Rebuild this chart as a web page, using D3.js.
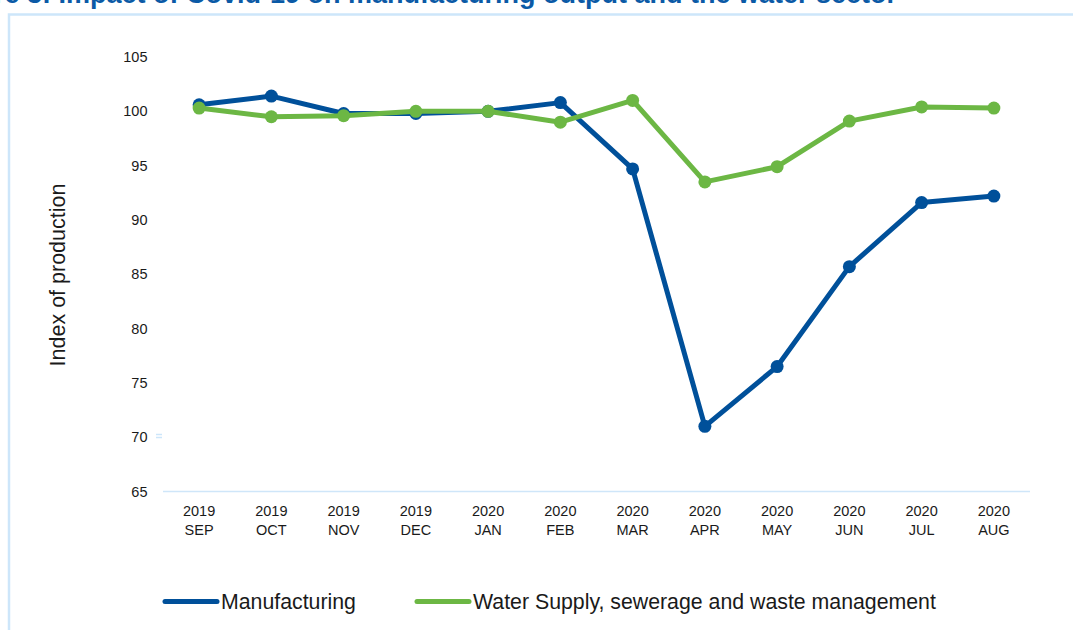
<!DOCTYPE html>
<html>
<head>
<meta charset="utf-8">
<script src="https://cdn.jsdelivr.net/npm/d3@7"></script>
<style>
  html, body { margin: 0; padding: 0; background: #fff; }
  svg { display: block; }
</style>
</head>
<body>
<svg id="chart" width="1073" height="630"></svg>
<script>
// Monthly index of production, Sep 2019 – Aug 2020
const years = ["2019", "2019", "2019", "2019", "2020", "2020", "2020", "2020", "2020", "2020", "2020", "2020"];
const months = ["SEP", "OCT", "NOV", "DEC", "JAN", "FEB", "MAR", "APR", "MAY", "JUN", "JUL", "AUG"];
const manufacturing = [100.6, 101.4, 99.8, 99.8, 100.0, 100.8, 94.7, 71.0, 76.5, 85.7, 91.6, 92.2];
const waterSupply = [100.3, 99.5, 99.6, 100.0, 100.0, 99.0, 101.0, 93.5, 94.9, 99.1, 100.4, 100.3];
const yTicks = [65, 70, 75, 80, 85, 90, 95, 100, 105];

const seriesList = [
  { name: "Manufacturing", values: manufacturing, color: "#00509A" },
  { name: "Water Supply, sewerage and waste management", values: waterSupply, color: "#6CB744" }
];

const svg = d3.select("#chart");
const font = "'Liberation Sans', Arial, Helvetica, sans-serif";

// Title (runs past the top of the frame) and frame
svg.append("text")
  .attr("x", 897).attr("y", 3)
  .attr("text-anchor", "end")
  .attr("font-family", font)
  .attr("font-weight", "bold")
  .attr("font-size", 27)
  .attr("fill", "#0B5AA6")
  .text("Figure 3: Impact of Covid-19 on manufacturing output and the water sector");

svg.append("path")
  .attr("d", "M9,640 L9,14.5 L1080,14.5")
  .attr("fill", "none")
  .attr("stroke", "#CDE6FA")
  .attr("stroke-width", 2.5);

const plot = { left: 163, right: 1030, top: 57, bottom: 491.5 };

const x = d3.scaleBand()
  .domain(months.map((m, i) => i))
  .range([plot.left, plot.right]);

const y = d3.scaleLinear()
  .domain([65, 105])
  .range([plot.bottom, plot.top]);

// Y axis labels
const yAxis = d3.axisLeft(y).tickValues(yTicks).tickSize(0).tickPadding(0).tickFormat(d3.format("d"));
const yg = svg.append("g").attr("transform", `translate(147.5,0)`).call(yAxis);
yg.select(".domain").remove();
yg.selectAll("text")
  .attr("font-family", font)
  .attr("font-size", 14.5)
  .attr("fill", "#1a1a1a");

// small marks beside the 70 label
[434.5, 437.5].forEach(yy => {
  svg.append("line")
    .attr("x1", 156).attr("x2", 162)
    .attr("y1", yy).attr("y2", yy)
    .attr("stroke", "#CDE6FA").attr("stroke-width", 1.5);
});

// X axis baseline
svg.append("line")
  .attr("x1", plot.left).attr("x2", plot.right)
  .attr("y1", plot.bottom).attr("y2", plot.bottom)
  .attr("stroke", "#CFE6F9").attr("stroke-width", 1.5);

// X category labels (year over month)
const xg = svg.append("g");
months.forEach((m, i) => {
  const cx = x(i) + x.bandwidth() / 2;
  const t = xg.append("text")
    .attr("x", cx)
    .attr("text-anchor", "middle")
    .attr("font-family", font)
    .attr("font-size", 14.5)
    .attr("fill", "#1a1a1a");
  t.append("tspan").attr("x", cx).attr("y", 516).text(years[i]);
  t.append("tspan").attr("x", cx).attr("y", 535).text(m);
});

// Y axis title
svg.append("text")
  .attr("transform", "translate(65,275) rotate(-90)")
  .attr("text-anchor", "middle")
  .attr("font-family", font)
  .attr("font-size", 21.5)
  .attr("fill", "#1a1a1a")
  .text("Index of production");

// Lines and markers
const line = d3.line()
  .x((d, i) => x(i) + x.bandwidth() / 2)
  .y(d => y(d));

seriesList.forEach(s => {
  const g = svg.append("g");
  g.append("path")
    .datum(s.values)
    .attr("d", line)
    .attr("fill", "none")
    .attr("stroke", s.color)
    .attr("stroke-width", 5)
    .attr("stroke-linejoin", "round");
  g.selectAll("circle")
    .data(s.values)
    .join("circle")
    .attr("cx", (d, i) => x(i) + x.bandwidth() / 2)
    .attr("cy", d => y(d))
    .attr("r", 6.5)
    .attr("fill", s.color);
});

// Legend
const legendItems = [
  { x: 163, s: seriesList[0] },
  { x: 415, s: seriesList[1] }
];
legendItems.forEach(it => {
  svg.append("line")
    .attr("x1", it.x + 2).attr("x2", it.x + 54)
    .attr("y1", 601.5).attr("y2", 601.5)
    .attr("stroke", it.s.color)
    .attr("stroke-width", 5)
    .attr("stroke-linecap", "round");
  svg.append("text")
    .attr("x", it.x + 58)
    .attr("y", 609)
    .attr("font-family", font)
    .attr("font-size", 21.3)
    .attr("fill", "#1a1a1a")
    .text(it.s.name);
});
</script>
</body>
</html>
